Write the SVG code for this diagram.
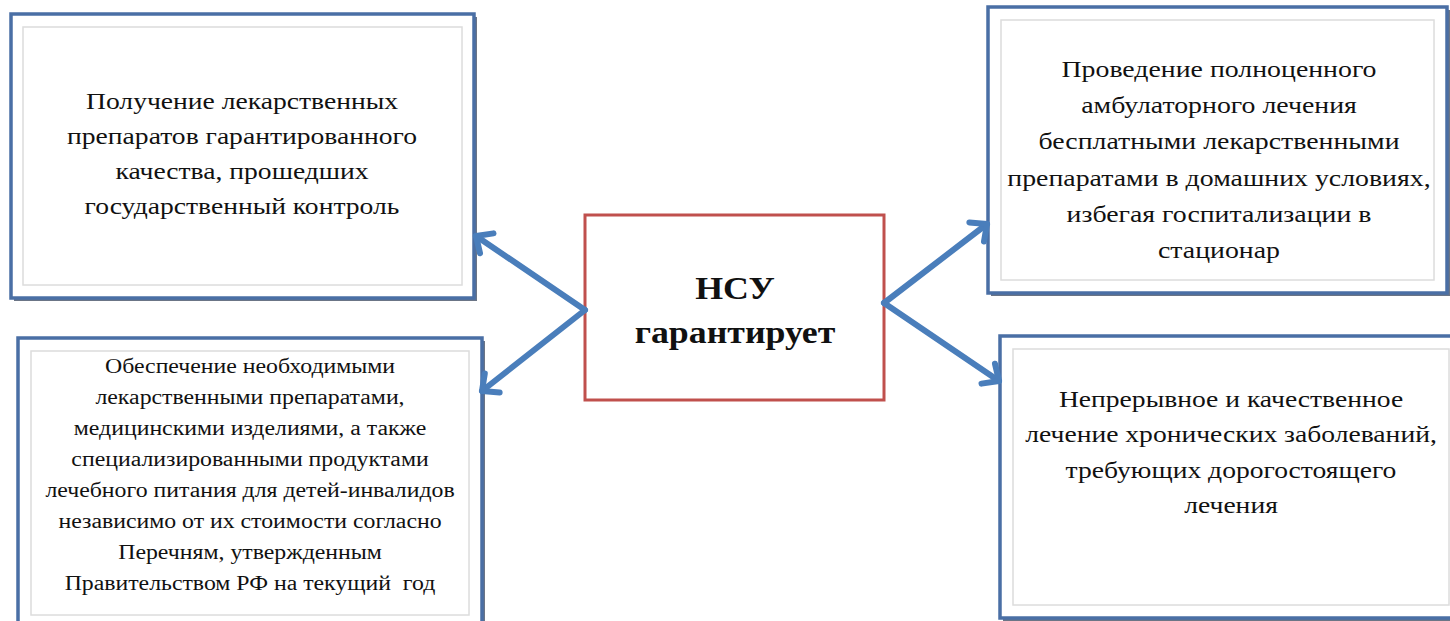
<svg xmlns="http://www.w3.org/2000/svg" width="1450" height="621" viewBox="0 0 1450 621">
<style>
.shadow{fill:#2c3a52;opacity:0.7}
.box{fill:#ffffff;stroke:#4a6fa5;stroke-width:3.5}
.inner{fill:none;stroke:#dcdcdc;stroke-width:1.5}
.center{fill:#ffffff;stroke:#c0504d;stroke-width:3}
.t{font-family:"Liberation Serif","Times New Roman",serif;fill:#111111;text-anchor:middle;white-space:pre}
.t23{font-size:23px}
.t20{font-size:20px}
.tb{font-size:32px;font-weight:bold}
.conn{stroke:#4a7ebb;stroke-width:6;fill:none;stroke-linecap:round}
</style>
<defs>
<marker id="ah" markerUnits="userSpaceOnUse" markerWidth="34" markerHeight="34" viewBox="0 0 34 34" refX="18" refY="17" orient="auto" overflow="visible">
<path d="M5,5 L18,17 L5,29" fill="none" stroke="#4a7ebb" stroke-width="6" stroke-linecap="round" stroke-linejoin="round"/>
</marker>
</defs>
<rect width="1450" height="621" fill="#ffffff"/>

<g id="node-top-left">
<rect class="shadow" x="14" y="17" width="463" height="284"/>
<rect class="box" x="11" y="14" width="463" height="284"/>
<rect class="inner" x="23" y="27" width="439" height="258"/>
<g transform="translate(242,0) scale(1.2,1)">
<text class="t t23" x="0" y="109">Получение лекарственных</text>
<text class="t t23" x="0" y="144">препаратов гарантированного</text>
<text class="t t23" x="0" y="179">качества, прошедших</text>
<text class="t t23" x="0" y="214">государственный контроль</text>
</g>
</g>

<g id="node-bottom-left">
<rect class="shadow" x="21" y="341" width="464" height="290"/>
<rect class="box" x="18" y="338" width="464" height="290"/>
<rect class="inner" x="31" y="351" width="438" height="264"/>
<g transform="translate(250,0) scale(1.19,1)">
<text class="t t20" x="0" y="373">Обеспечение необходимыми</text>
<text class="t t20" x="0" y="404">лекарственными препаратами,</text>
<text class="t t20" x="0" y="435">медицинскими изделиями, а также</text>
<text class="t t20" x="0" y="466">специализированными продуктами</text>
<text class="t t20" x="0" y="497">лечебного питания для детей-инвалидов</text>
<text class="t t20" x="0" y="528">независимо от их стоимости согласно</text>
<text class="t t20" x="0" y="559">Перечням, утвержденным</text>
<text class="t t20" x="0" y="590">Правительством РФ на текущий  год</text>
</g>
</g>

<g id="node-center">
<rect class="center" x="585" y="215" width="299" height="185"/>
<g transform="translate(735,0) scale(1.12,1)">
<text class="t tb" x="0" y="299">НСУ</text>
<text class="t tb" x="0" y="343">гарантирует</text>
</g>
</g>

<g id="node-top-right">
<rect class="shadow" x="991" y="10" width="459" height="286"/>
<rect class="box" x="988" y="7" width="459" height="286"/>
<rect class="inner" x="1001" y="20" width="433" height="260"/>
<g transform="translate(1219,0) scale(1.21,1)">
<text class="t t23" x="0" y="77">Проведение полноценного</text>
<text class="t t23" x="0" y="113">амбулаторного лечения</text>
<text class="t t23" x="0" y="149">бесплатными лекарственными</text>
<text class="t t23" x="0" y="186">препаратами в домашних условиях,</text>
<text class="t t23" x="0" y="222">избегая госпитализации в</text>
<text class="t t23" x="0" y="258">стационар</text>
</g>
</g>

<g id="node-bottom-right">
<rect class="shadow" x="1003" y="339" width="462" height="282"/>
<rect class="box" x="1000" y="336" width="462" height="282"/>
<rect class="inner" x="1013" y="349" width="436" height="256"/>
<g transform="translate(1231,0) scale(1.2,1)">
<text class="t t23" x="0" y="407">Непрерывное и качественное</text>
<text class="t t23" x="0" y="442">лечение хронических заболеваний,</text>
<text class="t t23" x="0" y="478">требующих дорогостоящего</text>
<text class="t t23" x="0" y="513">лечения</text>
</g>
</g>

<g id="connectors">
<line class="conn" x1="585" y1="310" x2="476" y2="236" marker-end="url(#ah)"/>
<line class="conn" x1="585" y1="310" x2="482" y2="391" marker-end="url(#ah)"/>
<line class="conn" x1="884" y1="303" x2="987" y2="224" marker-end="url(#ah)"/>
<line class="conn" x1="884" y1="303" x2="999" y2="381" marker-end="url(#ah)"/>
</g>
</svg>
